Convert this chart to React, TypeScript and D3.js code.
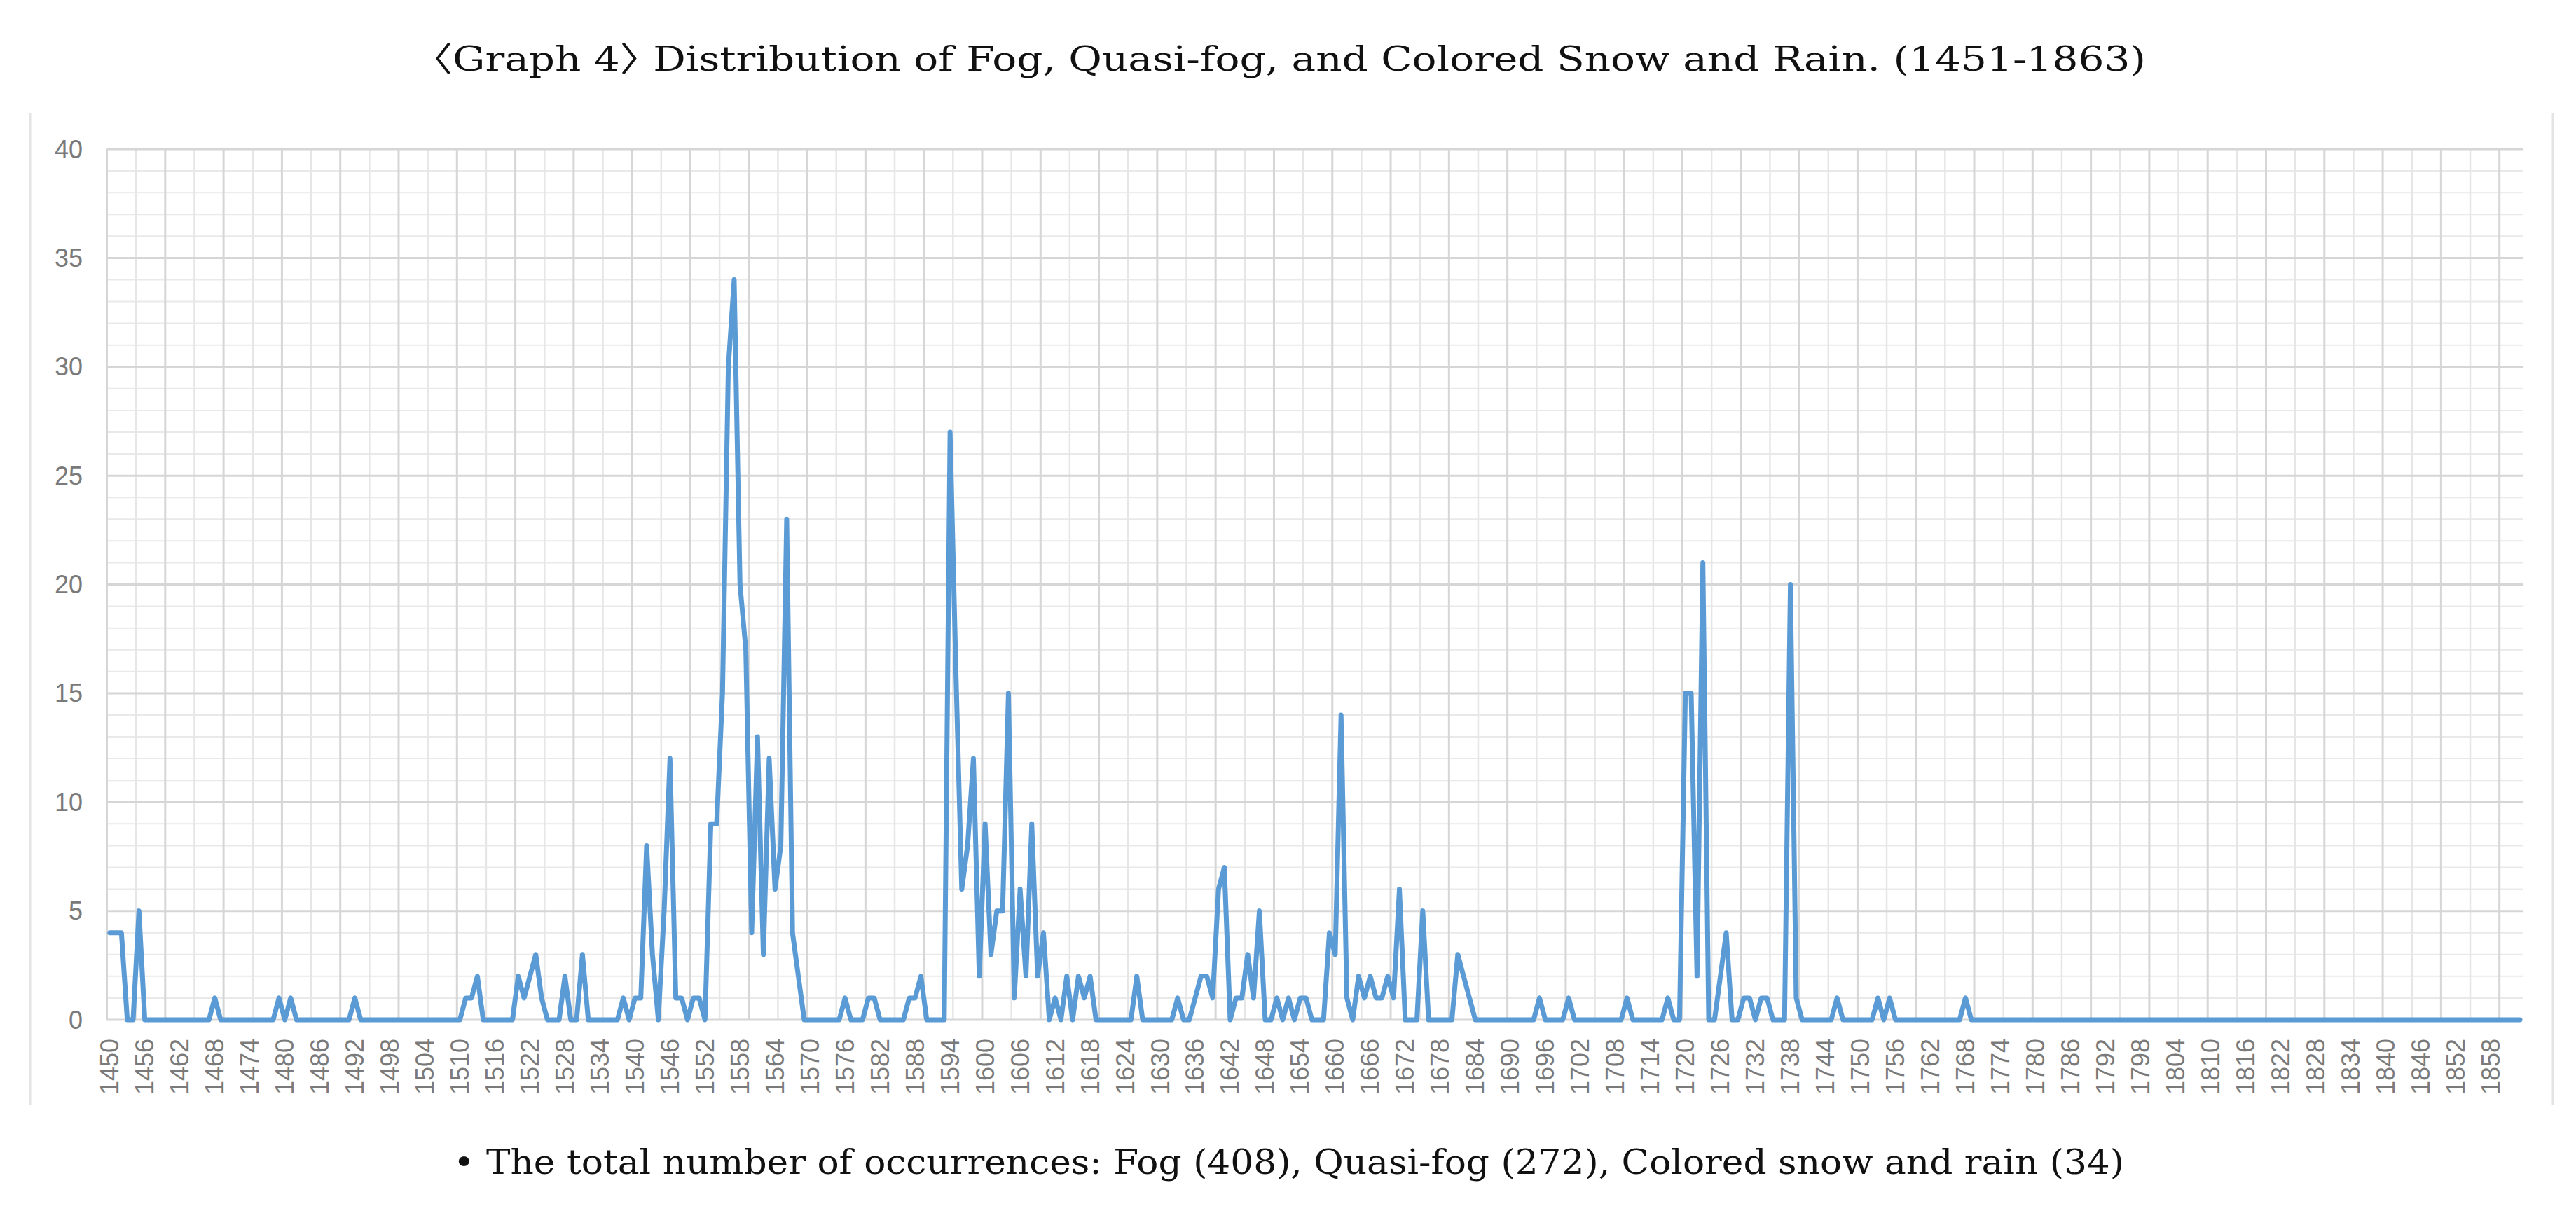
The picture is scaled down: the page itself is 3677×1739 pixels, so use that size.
import * as d3 from 'd3';

// Yearly counts, one value per year starting at 1450
const counts1450to1549 = [
  4, 4, 4, 0, 0, 5, 0, 0, 0, 0,
  0, 0, 0, 0, 0, 0, 0, 0, 1, 0,
  0, 0, 0, 0, 0, 0, 0, 0, 0, 1,
  0, 1, 0, 0, 0, 0, 0, 0, 0, 0,
  0, 0, 1, 0, 0, 0, 0, 0, 0, 0,
  0, 0, 0, 0, 0, 0, 0, 0, 0, 0,
  0, 1, 1, 2, 0, 0, 0, 0, 0, 0,
  2, 1, 2, 3, 1, 0, 0, 0, 2, 0,
  0, 3, 0, 0, 0, 0, 0, 0, 1, 0,
  1, 1, 8, 3, 0, 5, 12, 1, 1, 0,
];

const counts1550to1649 = [
  1, 1, 0, 9, 9, 15, 30, 34, 20, 17,
  4, 13, 3, 12, 6, 8, 23, 4, 2, 0,
  0, 0, 0, 0, 0, 0, 1, 0, 0, 0,
  1, 1, 0, 0, 0, 0, 0, 1, 1, 2,
  0, 0, 0, 0, 27, 16, 6, 8, 12, 2,
  9, 3, 5, 5, 15, 1, 6, 2, 9, 2,
  4, 0, 1, 0, 2, 0, 2, 1, 2, 0,
  0, 0, 0, 0, 0, 0, 2, 0, 0, 0,
  0, 0, 0, 1, 0, 0, 1, 2, 2, 1,
  6, 7, 0, 1, 1, 3, 1, 5, 0, 0,
];

const counts1650to1749 = [
  1, 0, 1, 0, 1, 1, 0, 0, 0, 4,
  3, 14, 1, 0, 2, 1, 2, 1, 1, 2,
  1, 6, 0, 0, 0, 5, 0, 0, 0, 0,
  0, 3, 2, 1, 0, 0, 0, 0, 0, 0,
  0, 0, 0, 0, 0, 1, 0, 0, 0, 0,
  1, 0, 0, 0, 0, 0, 0, 0, 0, 0,
  1, 0, 0, 0, 0, 0, 0, 1, 0, 0,
  15, 15, 2, 21, 0, 0, 2, 4, 0, 0,
  1, 1, 0, 1, 1, 0, 0, 0, 20, 1,
  0, 0, 0, 0, 0, 0, 1, 0, 0, 0,
];

const counts1750to1863 = [
  0, 0, 0, 1, 0, 1, 0, 0, 0, 0,
  0, 0, 0, 0, 0, 0, 0, 0, 1, 0,
  0, 0, 0, 0, 0, 0, 0, 0, 0, 0,
  0, 0, 0, 0, 0, 0, 0, 0, 0, 0,
  0, 0, 0, 0, 0, 0, 0, 0, 0, 0,
  0, 0, 0, 0, 0, 0, 0, 0, 0, 0,
  0, 0, 0, 0, 0, 0, 0, 0, 0, 0,
  0, 0, 0, 0, 0, 0, 0, 0, 0, 0,
  0, 0, 0, 0, 0, 0, 0, 0, 0, 0,
  0, 0, 0, 0, 0, 0, 0, 0, 0, 0,
  0, 0, 0, 0, 0, 0, 0, 0, 0, 0,
  0, 0, 0, 0,
];

const counts = [...counts1450to1549, ...counts1550to1649, ...counts1650to1749, ...counts1750to1863];
const years = d3.range(1450, 1450 + counts.length);
const labelYears = years.filter((yr) => (yr - 1450) % 6 === 0);
const yTicks = d3.range(0, 41, 5);
const yMinorTicks = d3.range(0, 41).filter((v) => v % 5 !== 0);

const title = '〈Graph 4〉 Distribution of Fog, Quasi-fog, and Colored Snow and Rain. (1451-1863)';
const note = '• The total number of occurrences: Fog (408), Quasi-fog (272), Colored snow and rain (34)';

export default function App() {
  const width = 3677;
  const height = 1739;
  const plot = { left: 152.5, right: 3601, top: 213, bottom: 1456 };

  // X scale (one band per year, points at band centers)
  const x = d3.scaleBand<number>().domain(years).range([plot.left, plot.right]);
  const cx = (yr: number) => x(yr)! + x.bandwidth() / 2;

  // Y scale (count)
  const y = d3.scaleLinear().domain([0, 40]).range([plot.bottom, plot.top]);

  const line = d3
    .line<number>()
    .x((_, i) => cx(years[i]))
    .y((d) => y(d));

  const gridYears = years.filter((_, i) => i % 5 === 0);
  const serif = "'DejaVu Serif', 'Noto Sans CJK KR', serif";

  return (
    <svg
      width={width}
      height={height}
      style={{ position: 'absolute', left: 0, top: 0, display: 'block', background: '#fff' }}
    >
      <text
        x={617}
        y={101}
        fontFamily={serif}
        fontSize={48}
        fill="#111"
        textLength={2446}
        lengthAdjust="spacingAndGlyphs"
        style={{ fontFeatureSettings: '"halt"' }}
      >
        {title}
      </text>

      {/* chart frame sides */}
      <line x1={43} x2={43} y1={162} y2={1577} stroke="#e4e4e4" strokeWidth={3} />
      <line x1={3644} x2={3644} y1={162} y2={1577} stroke="#e4e4e4" strokeWidth={3} />

      {/* minor gridlines */}
      {yMinorTicks.map((v) => (
        <line key={`hm${v}`} x1={plot.left} x2={plot.right} y1={y(v)} y2={y(v)} stroke="#e9e9e9" strokeWidth={2} />
      ))}
      {gridYears
        .filter((_, i) => i % 2 === 1)
        .map((yr) => (
          <line key={`vm${yr}`} x1={x(yr)!} x2={x(yr)!} y1={plot.top} y2={plot.bottom} stroke="#e6e6e6" strokeWidth={2.5} />
        ))}

      {/* major gridlines */}
      {yTicks.map((v) => (
        <line key={`h${v}`} x1={plot.left} x2={plot.right} y1={y(v)} y2={y(v)} stroke="#d6d6d6" strokeWidth={3} />
      ))}
      {gridYears
        .filter((_, i) => i % 2 === 0)
        .map((yr) => (
          <line key={`v${yr}`} x1={x(yr)!} x2={x(yr)!} y1={plot.top} y2={plot.bottom} stroke="#d6d6d6" strokeWidth={3} />
        ))}

      {/* Y axis labels */}
      {yTicks.map((v) => (
        <text
          key={`yl${v}`}
          x={118}
          y={y(v)}
          textAnchor="end"
          dominantBaseline="central"
          fontFamily="'Liberation Sans', Arial, sans-serif"
          fontSize={36}
          fill="#7a7a7a"
        >
          {v}
        </text>
      ))}

      {/* X axis labels, rotated */}
      {labelYears.map((yr) => (
        <text
          key={`xl${yr}`}
          transform={`translate(${cx(yr)}, ${1483}) rotate(-90)`}
          textAnchor="end"
          dominantBaseline="central"
          fontFamily="'Liberation Sans', Arial, sans-serif"
          fontSize={36}
          fill="#7a7a7a"
        >
          {yr}
        </text>
      ))}

      {/* Series line */}
      <path
        d={line(counts) ?? ''}
        fill="none"
        stroke="#5b9bd5"
        strokeWidth={7}
        strokeLinejoin="round"
        strokeLinecap="round"
      />

      <text
        x={647}
        y={1676}
        fontFamily={serif}
        fontSize={48}
        fill="#111"
        textLength={2385}
        lengthAdjust="spacingAndGlyphs"
      >
        {note}
      </text>
    </svg>
  );
}
